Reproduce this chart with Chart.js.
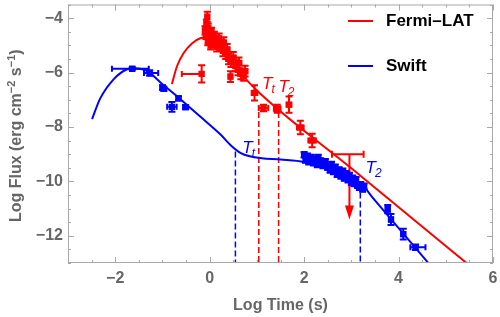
<!DOCTYPE html>
<html>
<head>
<meta charset="utf-8">
<script src="https://cdn.jsdelivr.net/npm/chart.js@4.4.1/dist/chart.umd.min.js"></script>
<style>
  html, body { margin: 0; padding: 0; background: #fff; }
</style>
</head>
<body>
<canvas id="lightCurve" width="500" height="317"></canvas>
<script>
// axis ticks
const xTickValues = [-2, 0, 2, 4, 6];
const yTickValues = [-4, -6, -8, -10, -12];

// Fermi-LAT points (log t, log flux, left/right half width, flux error)
const latT     = [-0.05, -0.07, -0.03, -0.10, -0.02, -0.08, 0.00, -0.04, 0.04, 0.06, 0.02, 0.10, 0.12, 0.15, 0.20, 0.24, 0.28, 0.30, 0.34, 0.37, 0.40, 0.45, 0.44, 0.50, 0.55, 0.60, 0.62, 0.66, 0.72, 0.75, 0.95, 1.14, 1.43, 1.68, 1.92, 2.17, -0.17];
const latFlux  = [-3.95, -4.20, -4.35, -4.45, -4.55, -4.65, -4.75, -4.85, -4.50, -4.90, -5.00, -4.65, -4.85, -5.05, -4.75, -5.00, -5.20, -4.90, -5.30, -5.15, -5.50, -5.60, -6.15, -5.45, -5.75, -5.90, -5.65, -6.05, -6.10, -5.95, -6.75, -7.30, -7.33, -7.18, -8.02, -8.50, -6.05];
const latTLo   = [0.02, 0.02, 0.02, 0.02, 0.02, 0.02, 0.02, 0.03, 0.03, 0.03, 0.03, 0.03, 0.03, 0.03, 0.04, 0.04, 0.04, 0.04, 0.04, 0.05, 0.05, 0.05, 0.03, 0.05, 0.05, 0.05, 0.05, 0.05, 0.05, 0.05, 0.06, 0.10, 0.07, 0.05, 0.07, 0.08, 0.42];
const latTHi   = [0.02, 0.02, 0.02, 0.02, 0.02, 0.02, 0.02, 0.03, 0.03, 0.03, 0.03, 0.03, 0.03, 0.03, 0.04, 0.04, 0.04, 0.04, 0.04, 0.05, 0.05, 0.05, 0.03, 0.05, 0.05, 0.05, 0.05, 0.05, 0.05, 0.05, 0.06, 0.10, 0.07, 0.05, 0.07, 0.08, 0.02];
const latFErr  = [0.18, 0.15, 0.15, 0.15, 0.15, 0.12, 0.15, 0.15, 0.15, 0.15, 0.15, 0.15, 0.18, 0.18, 0.18, 0.20, 0.20, 0.20, 0.20, 0.20, 0.20, 0.20, 0.20, 0.20, 0.20, 0.20, 0.20, 0.20, 0.20, 0.20, 0.28, 0.12, 0.15, 0.30, 0.25, 0.25, 0.32];

// Fermi-LAT upper limit
const ulT = [2.96];
const ulFlux = [-9.0];
const ulTLo = [2.59];
const ulTHi = [3.26];
const ulFluxTo = [-11.4];

// Swift points
const xrtT    = [-1.64, -1.27, -1.00, -0.97, -0.66, -0.80, -0.51,
                 2.00, 2.03, 2.07, 2.10, 2.15, 2.20, 2.24, 2.28, 2.30, 2.35, 2.40, 2.45, 2.50, 2.55, 2.58, 2.62, 2.66, 2.70, 2.74, 2.78, 2.82, 2.85, 2.90, 2.93, 2.96, 3.00, 3.03, 3.06, 3.10, 3.13, 3.17, 3.20, 3.24, 3.27,
                 3.77, 3.84, 4.10, 4.36];
const xrtFlux = [-5.86, -6.02, -6.55, -6.60, -6.95, -7.26, -7.27,
                 -9.02, -9.22, -9.08, -9.28, -9.12, -9.32, -9.18, -9.38, -9.12, -9.25, -9.42, -9.28, -9.48, -9.58, -9.38, -9.64, -9.48, -9.74, -9.58, -9.80, -9.63, -9.88, -9.72, -9.94, -9.78, -10.04, -9.88, -10.08, -9.94, -10.14, -10.22, -10.12, -10.28, -10.18,
                 -11.02, -11.40, -11.94, -12.42];
const xrtTLo  = [0.43, 0.12, 0.04, 0.04, 0.04, 0.10, 0.05,
                 0.02, 0.02, 0.02, 0.02, 0.02, 0.02, 0.02, 0.02, 0.02, 0.02, 0.02, 0.02, 0.02, 0.02, 0.02, 0.02, 0.02, 0.02, 0.02, 0.02, 0.02, 0.02, 0.02, 0.02, 0.02, 0.02, 0.02, 0.02, 0.02, 0.02, 0.02, 0.02, 0.02, 0.02,
                 0.04, 0.04, 0.04, 0.11];
const xrtTHi  = [0.35, 0.18, 0.04, 0.04, 0.04, 0.10, 0.05,
                 0.02, 0.02, 0.02, 0.02, 0.02, 0.02, 0.02, 0.02, 0.02, 0.02, 0.02, 0.02, 0.02, 0.02, 0.02, 0.02, 0.02, 0.02, 0.02, 0.02, 0.02, 0.02, 0.02, 0.02, 0.02, 0.02, 0.02, 0.02, 0.02, 0.02, 0.02, 0.02, 0.02, 0.02,
                 0.04, 0.04, 0.04, 0.21];
const xrtFErr = [0.05, 0.10, 0.08, 0.08, 0.08, 0.18, 0.08,
                 0.10, 0.10, 0.10, 0.10, 0.10, 0.10, 0.10, 0.10, 0.10, 0.10, 0.10, 0.10, 0.10, 0.10, 0.10, 0.10, 0.10, 0.10, 0.10, 0.10, 0.10, 0.10, 0.10, 0.10, 0.10, 0.10, 0.10, 0.10, 0.10, 0.10, 0.10, 0.10, 0.10, 0.10,
                 0.15, 0.20, 0.20, 0.10];

// model curves
const latModelT    = [-0.80, -0.69, -0.55, -0.37, -0.20, -0.05, 0.10, 0.30, 0.50, 0.70, 1.00, 3.00, 6.00];
const latModelFlux = [-6.42, -5.76, -5.28, -4.92, -4.74, -4.70, -4.78, -5.10, -5.60, -6.10, -6.66, -9.52, -13.80];
const xrtModelT    = [-2.49, -2.32, -2.03, -1.75, -1.60, -1.33, -1.00, -0.62, -0.20, 0.23, 0.45, 0.65, 0.85, 1.10, 1.50, 2.00, 2.55, 2.91, 3.20, 3.50, 4.61, 5.00];
const xrtModelFlux = [-7.71, -6.96, -6.24, -5.88, -5.84, -5.94, -6.43, -6.98, -7.62, -8.28, -8.68, -8.95, -9.08, -9.15, -9.20, -9.29, -9.59, -9.84, -10.08, -10.70, -12.96, -13.75];

// break times (dashed markers)
const latBreakT = [1.04, 1.46];
const latBreakTop = [-7.45, -7.45];
const xrtBreakT = [0.545, 3.19];
const xrtBreakTop = [-8.9, -10.08];

const RED = '#ff0000';
const BLUE = '#0000ff';
const GRAY = '#666666';
const FRAME = '#a8a8a8';

const toPoints = (xs, ys) => xs.map((v, i) => ({x: v, y: ys[i]}));
const toErrors = (lo, hi, fe) => lo.map((v, i) => ({xlo: v, xhi: hi[i], y: fe[i]}));

const dashed = (t, top, color) => ({
  data: [{x: t, y: top}, {x: t, y: -13}],
  borderColor: color, borderWidth: 1.5, borderDash: [6, 3],
  pointRadius: 0, showLine: true, fill: false
});

const datasets = [
  {
    label: 'Fermi-LAT model', data: toPoints(latModelT, latModelFlux),
    borderColor: RED, borderWidth: 2, pointRadius: 0, showLine: true,
    cubicInterpolationMode: 'monotone'
  },
  {
    label: 'Swift model', data: toPoints(xrtModelT, xrtModelFlux),
    borderColor: BLUE, borderWidth: 2, pointRadius: 0, showLine: true,
    cubicInterpolationMode: 'monotone'
  },
  dashed(latBreakT[0], latBreakTop[0], RED),
  dashed(latBreakT[1], latBreakTop[1], RED),
  dashed(xrtBreakT[0], xrtBreakTop[0], BLUE),
  dashed(xrtBreakT[1], xrtBreakTop[1], BLUE),
  {
    label: 'Fermi-LAT', data: toPoints(latT, latFlux),
    errors: toErrors(latTLo, latTHi, latFErr),
    backgroundColor: RED, borderColor: RED, borderWidth: 0,
    pointStyle: 'rect', pointRadius: 4.5, showLine: false
  },
  {
    label: 'Swift', data: toPoints(xrtT, xrtFlux),
    errors: toErrors(xrtTLo, xrtTHi, xrtFErr),
    backgroundColor: BLUE, borderColor: BLUE, borderWidth: 0,
    pointStyle: 'rect', pointRadius: 4.5, showLine: false
  }
];

// error bars, upper limit arrow
const errorBars = {
  id: 'errorBars',
  beforeDatasetsDraw(chart) {
    const {ctx, chartArea: a, scales: {x, y}} = chart;
    ctx.save();
    ctx.beginPath();
    ctx.rect(a.left, a.top, a.right - a.left, a.bottom - a.top);
    ctx.clip();
    ctx.lineWidth = 2;
    chart.data.datasets.forEach(ds => {
      if (!ds.errors) return;
      ctx.strokeStyle = ds.borderColor;
      ds.data.forEach((p, j) => {
        const e = ds.errors[j];
        const px = x.getPixelForValue(p.x), py = y.getPixelForValue(p.y);
        const xl = x.getPixelForValue(p.x - e.xlo), xr = x.getPixelForValue(p.x + e.xhi);
        const yt = y.getPixelForValue(p.y + e.y), yb = y.getPixelForValue(p.y - e.y);
        ctx.beginPath();
        ctx.moveTo(xl, py); ctx.lineTo(xr, py);
        ctx.moveTo(xl, py - 3); ctx.lineTo(xl, py + 3);
        ctx.moveTo(xr, py - 3); ctx.lineTo(xr, py + 3);
        ctx.moveTo(px, yt); ctx.lineTo(px, yb);
        ctx.moveTo(px - 3.5, yt); ctx.lineTo(px + 3.5, yt);
        ctx.moveTo(px - 3.5, yb); ctx.lineTo(px + 3.5, yb);
        ctx.stroke();
      });
    });

    // upper limit
    ctx.strokeStyle = RED;
    ctx.fillStyle = RED;
    ulT.forEach((t, i) => {
      const px = x.getPixelForValue(t), py = y.getPixelForValue(ulFlux[i]);
      const xl = x.getPixelForValue(ulTLo[i]), xr = x.getPixelForValue(ulTHi[i]);
      const pEnd = y.getPixelForValue(ulFluxTo[i]);
      ctx.lineWidth = 2;
      ctx.beginPath();
      ctx.moveTo(xl, py); ctx.lineTo(xr, py);
      ctx.moveTo(xl, py - 3.5); ctx.lineTo(xl, py + 3.5);
      ctx.moveTo(xr, py - 3.5); ctx.lineTo(xr, py + 3.5);
      ctx.moveTo(px, py); ctx.lineTo(px, pEnd - 10);
      ctx.stroke();
      ctx.beginPath();
      ctx.moveTo(px - 4.5, pEnd - 14);
      ctx.lineTo(px + 4.5, pEnd - 14);
      ctx.lineTo(px, pEnd);
      ctx.closePath();
      ctx.fill();
    });
    ctx.restore();
  }
};

// frame with inward ticks, titles, legend and labels
const decorations = {
  id: 'decorations',
  afterDraw(chart) {
    const {ctx, chartArea: a, scales: {x, y}} = chart;
    ctx.save();
    ctx.strokeStyle = FRAME;
    ctx.lineWidth = 1;
    ctx.strokeRect(a.left + 0.5, a.top + 0.5, a.right - a.left - 1, a.bottom - a.top - 1);
    ctx.beginPath();
    for (let v = -3; v <= 6.001; v += 0.5) {
      const px = Math.round(x.getPixelForValue(v)) + 0.5;
      const len = (Math.abs(v % 2) < 1e-6) ? 6 : 3;
      ctx.moveTo(px, a.bottom); ctx.lineTo(px, a.bottom - len);
      ctx.moveTo(px, a.top); ctx.lineTo(px, a.top + len);
    }
    for (let v = -13; v <= -3.499; v += 0.5) {
      const py = Math.round(y.getPixelForValue(v)) + 0.5;
      const len = (Math.abs(v % 2) < 1e-6) ? 6 : 3;
      ctx.moveTo(a.left, py); ctx.lineTo(a.left + len, py);
      ctx.moveTo(a.right, py); ctx.lineTo(a.right - len, py);
    }
    ctx.stroke();

    // axis titles
    ctx.fillStyle = GRAY;
    ctx.font = 'bold 16px "Liberation Sans", Arial, sans-serif';
    ctx.textAlign = 'center';
    ctx.textBaseline = 'middle';
    ctx.fillText('Log Time (s)', (a.left + a.right) / 2, 306);

    ctx.save();
    ctx.translate(15, (a.top + a.bottom) / 2 + 2);
    ctx.rotate(-Math.PI / 2);
    const parts = [['Log Flux (erg cm', 0], ['\u22122', 1], [' s', 0], ['\u22121', 1], [')', 0]];
    const big = 'bold 16px "Liberation Sans", Arial, sans-serif';
    const small = 'bold 11px "Liberation Sans", Arial, sans-serif';
    let total = 0;
    parts.forEach(([s, sup]) => { ctx.font = sup ? small : big; total += ctx.measureText(s).width; });
    let cx = -total / 2;
    ctx.textAlign = 'left';
    ctx.textBaseline = 'alphabetic';
    parts.forEach(([s, sup]) => {
      ctx.font = sup ? small : big;
      ctx.fillText(s, cx, sup ? 0 : 6);
      cx += ctx.measureText(s).width;
    });
    ctx.restore();

    // legend
    ctx.lineWidth = 2;
    [['Fermi\u2013LAT', RED, 21], ['Swift', BLUE, 66]].forEach(([txt, col, ly]) => {
      ctx.strokeStyle = col;
      ctx.beginPath(); ctx.moveTo(348, ly); ctx.lineTo(373, ly); ctx.stroke();
      ctx.fillStyle = '#000';
      ctx.font = 'bold 17px "Liberation Sans", Arial, sans-serif';
      ctx.textAlign = 'left';
      ctx.textBaseline = 'middle';
      ctx.fillText(txt, 386, ly);
    });

    // break labels
    const label = (t, f, sub, col) => {
      const px = x.getPixelForValue(t), py = y.getPixelForValue(f);
      ctx.fillStyle = col;
      ctx.textAlign = 'left';
      ctx.textBaseline = 'alphabetic';
      ctx.font = 'italic 17px "Liberation Sans", Arial, sans-serif';
      ctx.fillText('T', px, py);
      const w = ctx.measureText('T').width;
      ctx.font = 'italic 12px "Liberation Sans", Arial, sans-serif';
      ctx.fillText(sub, px + w - 1, py + 4);
    };
    label(1.11, -6.62, 't', RED);
    label(1.455, -6.70, '2', RED);
    label(0.69, -8.95, 't', BLUE);
    label(3.30, -9.71, '2', BLUE);
    ctx.restore();
  }
};

const tickFont = {family: '"Liberation Sans", Arial, sans-serif', size: 16, weight: 'bold'};
const minus = v => String(v).replace('-', '\u2212');

new Chart(document.getElementById('lightCurve'), {
  type: 'scatter',
  data: {datasets},
  options: {
    responsive: false,
    animation: false,
    layout: {padding: {top: 0, right: 7, bottom: 0, left: 0}},
    plugins: {legend: {display: false}, tooltip: {enabled: false}},
    scales: {
      x: {
        type: 'linear', min: -3, max: 6,
        grid: {display: false, drawTicks: false},
        border: {display: false},
        afterBuildTicks: s => { s.ticks = xTickValues.map(v => ({value: v})); },
        afterFit: s => { s.height = 54; s.paddingLeft = 0; s.paddingRight = 0; },
        ticks: {color: GRAY, font: tickFont, padding: 6, maxRotation: 0, callback: minus}
      },
      y: {
        type: 'linear', min: -13, max: -3.5,
        grid: {display: false, drawTicks: false},
        border: {display: false},
        afterBuildTicks: s => { s.ticks = yTickValues.map(v => ({value: v})); },
        afterFit: s => { s.width = 68; s.paddingTop = 0; s.paddingBottom = 0; },
        ticks: {color: GRAY, font: tickFont, padding: 5, callback: minus}
      }
    }
  },
  plugins: [errorBars, decorations]
});
</script>
</body>
</html>
